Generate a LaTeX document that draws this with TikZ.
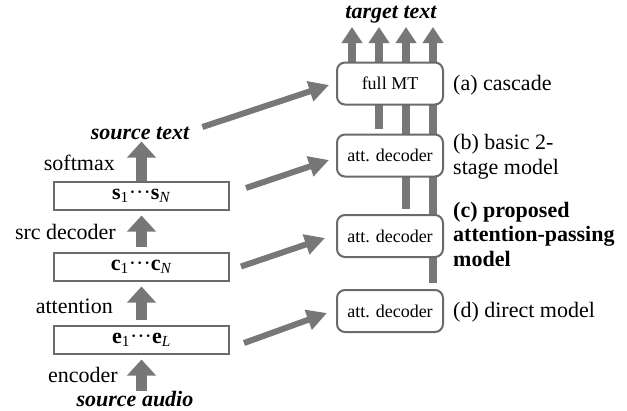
\documentclass[tikz,border=0pt]{standalone}
\usepackage{fontspec}
\setmainfont{Liberation Serif}
\usetikzlibrary{arrows.meta}
\definecolor{arr}{HTML}{777777}
\definecolor{boxc}{HTML}{6A6A6A}
\pgfdeclarelayer{bg}
\pgfsetlayers{bg,main}
\begin{document}
\begin{tikzpicture}[x=1pt,y=-1pt,
  lbl/.style={font=\fontsize{22}{24.5}\selectfont, inner sep=0pt},
  bilbl/.style={font=\fontsize{22}{24.5}\selectfont\bfseries\itshape, inner sep=0pt},
  blbl/.style={font=\fontsize{22}{24.5}\selectfont\bfseries, inner sep=0pt},
  sqbox/.style={draw=boxc, line width=2pt, fill=white, minimum width=175pt, minimum height=28pt, inner sep=0pt, font=\fontsize{22}{25}\selectfont},
  rbox/.style={draw=boxc, line width=2pt, fill=white, rounded corners=8pt, minimum width=106pt, minimum height=42pt, inner sep=0pt, font=\fontsize{18}{20}\selectfont},
  upbig/.style={draw=arr, line width=11pt, -{Triangle[width=28pt,length=16pt]}},
  upsmall/.style={draw=arr, line width=8pt, -{Triangle[width=20pt,length=16pt]}},
  diag/.style={draw=arr, line width=6pt, -{Triangle[width=20pt,length=20pt]}}
]
\useasboundingbox (0,0) rectangle (627,410);
% left column
\node[bilbl] (srcaudio) at (135,399) {source audio};
\node[sqbox] (ebox) at (141.5,339.5) {\textbf{e}\textsubscript{1}···\textbf{e}\textsubscript{\textit{L}}};
\node[sqbox] (cbox) at (141.5,266.5) {\textbf{c}\textsubscript{1}···\textbf{c}\textsubscript{\textit{N}}};
\node[sqbox] (sbox) at (141.5,195.5) {\textbf{s}\textsubscript{1}···\textbf{s}\textsubscript{\textit{N}}};
\node[lbl, anchor=east] (enclbl) at (118,375) {encoder};
\node[lbl, anchor=east] (attlbl) at (113,306) {attention};
\node[lbl, anchor=east] (declbl) at (116,232) {src decoder};
\node[lbl, anchor=east] (smlbl) at (115,163) {softmax};
\node[bilbl] (srctext) at (140,133) {source text};
\draw[upbig, shorten >=5pt] (ebox.south |- srcaudio.north) -- (ebox.south);
\draw[upbig, shorten <=5pt, shorten >=5pt] (ebox.north) -- (cbox.south);
\draw[upbig, shorten <=5pt, shorten >=5pt] (cbox.north) -- (sbox.south);
\draw[upbig, shorten >=2pt] (sbox.north) -- (sbox.north |- srctext.south);
% right column
\node[rbox] (fullmt) at (390,83.5) {full MT};
\node[rbox] (decb) at (390,155.5) {att. decoder};
\node[rbox] (decc) at (390,236) {att. decoder};
\node[rbox] (decd) at (390,311) {att. decoder};
\node[bilbl] (tgt) at (391,15) {target text};
\coordinate (t1) at (352,27);
\coordinate (t2) at (379,27);
\coordinate (t3) at (406,27);
\coordinate (t4) at (433,27);
\begin{pgfonlayer}{bg}
\fill[white] (0,0) rectangle (627,410);
\draw[upsmall] (fullmt.north -| t1) -- (t1);
\draw[upsmall, shorten <=5pt] (decb.north -| t2) -- (t2);
\draw[upsmall, shorten <=5pt] (decc.north -| t3) -- (t3);
\draw[upsmall, shorten <=6pt] (decd.north -| t4) -- (t4);
\end{pgfonlayer}
\node[lbl, anchor=west] (la) at (453,85) {(a) cascade};
\node[lbl, anchor=west, align=left] (lb) at (453,156.5) {(b) basic 2-\\stage model};
\node[blbl, anchor=west, align=left] (lc) at (453,234) {(c) proposed\\attention-passing\\model};
\node[lbl, anchor=west] (ld) at (453,312) {(d) direct model};
% diagonal arrows
\draw[diag] ([xshift=13pt,yshift=6pt]srctext.east) -- ([xshift=-7pt,yshift=-1.5pt]fullmt.west);
\draw[diag] ([xshift=16pt,yshift=7.5pt]sbox.east) -- ([xshift=-7pt,yshift=-4.5pt]decb.west);
\draw[diag] ([xshift=11pt]cbox.east) -- ([xshift=-11pt,yshift=-2pt]decc.west);
\draw[diag] ([xshift=14pt,yshift=-3.5pt]ebox.east) -- ([xshift=-9pt,yshift=-2pt]decd.west);
\end{tikzpicture}
\end{document}
